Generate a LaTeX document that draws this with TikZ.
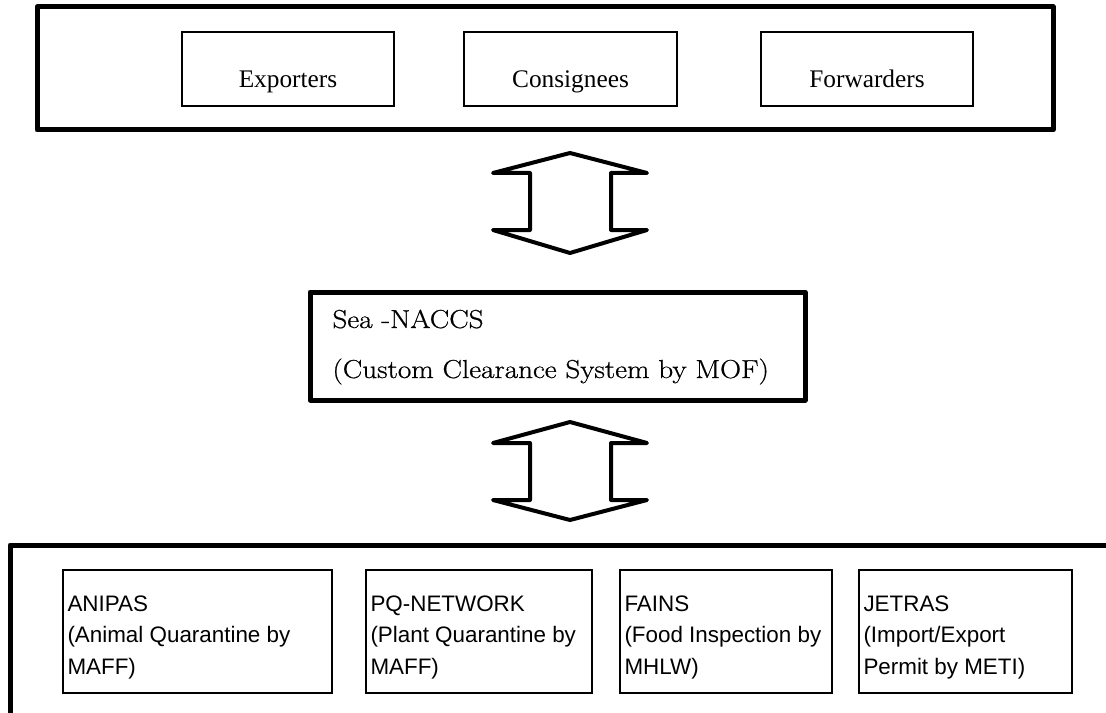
\documentclass[tikz,border=0pt]{standalone}
\usepackage{fontspec}
\newfontfamily\serfont{Liberation Serif}
\newfontfamily\sanfont{Liberation Sans}
\newfontfamily\midfont[FakeBold=0.7,FakeStretch=1.12]{Latin Modern Roman}

\tikzset{every picture/.style={line width=0.75pt}}
\tikzset{
  framebox/.style={line width=3.75pt, line join=round},
  itembox/.style={line width=1.1pt},
  dblarrow/.style={line width=3pt, line join=round},
  toptext/.style={font=\serfont\fontsize{19}{23}\selectfont, inner sep=0pt, anchor=base},
  midtext/.style={font=\midfont\fontsize{19.5}{24}\selectfont, inner sep=0pt, anchor=base west},
  lowtext/.style={font=\sanfont\fontsize{16.8}{23.6}\selectfont, inner sep=0pt, anchor=north west, align=left},
}

\begin{document}
\begin{tikzpicture}[x=0.75pt,y=0.75pt,yscale=-1,xscale=1]
\useasboundingbox (0,0) rectangle (1106,713);
\clip (0,0) rectangle (1106,713);

%Shape: Rectangle [outer box, users]
\draw [framebox] (37,7) -- (1053,7) -- (1053,130) -- (37,130) -- cycle ;
%Shape: Rectangle
\draw [itembox] (182,32) -- (394,32) -- (394,106) -- (182,106) -- cycle ;
%Shape: Rectangle
\draw [itembox] (464,32) -- (677,32) -- (677,106) -- (464,106) -- cycle ;
%Shape: Rectangle
\draw [itembox] (761,32) -- (973,32) -- (973,106) -- (761,106) -- cycle ;

% Text Node
\node (exporters) [toptext] at (288,88) {Exporters};
% Text Node
\node (consignees) [toptext] at (570.5,88) {Consignees};
% Text Node
\node (forwarders) [toptext] at (867,88) {Forwarders};

%Shape: Up Down Arrow
\draw [dblarrow] (570,153) -- (647,173) -- (611,173) -- (611,230) -- (647,230) -- (570,253) -- (493,230) -- (530,230) -- (530,173) -- (493,173) -- cycle ;

%Shape: Rectangle [Sea-NACCS]
\draw [framebox] (310,292) -- (805,292) -- (805,400) -- (310,400) -- cycle ;
% Text Node
\node (naccs) [midtext] at (332,328) {Sea -NACCS};
% Text Node
\node (naccsdesc) [midtext] at (332,378) {(Custom Clearance System by MOF)};

%Shape: Up Down Arrow
\draw [dblarrow] (570,422) -- (647,443) -- (611,443) -- (611,500) -- (647,500) -- (570,520) -- (493,500) -- (530,500) -- (530,443) -- (493,443) -- cycle ;

%Shape: Frame [other agencies, open to the right and below]
\draw [framebox] (10,730) -- (10,545) -- (1120,545) ;
%Shape: Rectangle
\draw [itembox] (63,570) -- (332,570) -- (332,693) -- (63,693) -- cycle ;
%Shape: Rectangle
\draw [itembox] (366,570) -- (592,570) -- (592,693) -- (366,693) -- cycle ;
%Shape: Rectangle
\draw [itembox] (620,570) -- (832,570) -- (832,693) -- (620,693) -- cycle ;
%Shape: Rectangle
\draw [itembox] (859,570) -- (1072,570) -- (1072,693) -- (859,693) -- cycle ;

% Text Node
\node (anipas) [lowtext] at (67,595) {ANIPAS\\(Animal Quarantine by\\MAFF)};
% Text Node
\node (pqnet) [lowtext] at (370,595) {PQ-NETWORK\\(Plant Quarantine by\\MAFF)};
% Text Node
\node (fains) [lowtext] at (624,595) {FAINS\\(Food Inspection by\\MHLW)};
% Text Node
\node (jetras) [lowtext] at (863,595) {JETRAS\\(Import/Export\\Permit by METI)};

\end{tikzpicture}
\end{document}
